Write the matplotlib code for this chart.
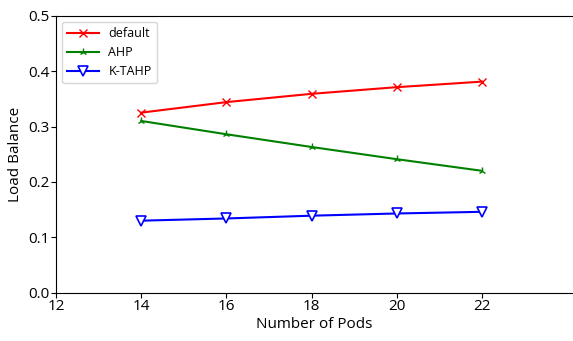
import matplotlib
matplotlib.use('Agg')
import matplotlib.pyplot as plt

plt.rcParams['font.family'] = ['Open Sans', 'DejaVu Sans']

# Данные
pods = [14, 16, 18, 20, 22]
default_vals = [0.325, 0.344, 0.359, 0.371, 0.381]
ahp_vals = [0.310, 0.286, 0.263, 0.241, 0.220]
ktahp_vals = [0.130, 0.134, 0.139, 0.143, 0.146]

fig = plt.figure(figsize=(5.73, 3.41), dpi=100)
ax = fig.add_axes([56 / 573, 1 - 292.7 / 341, 517 / 573, (292.7 - 15.7) / 341])

ax.plot(pods, default_vals, color='red', marker='x', markersize=6, linewidth=1.5, label='default')
ax.plot(pods, ahp_vals, color='green', marker='2', markersize=6, linewidth=1.5, label='AHP')
ax.plot(pods, ktahp_vals, color='blue', marker='v', markersize=6.5, markerfacecolor='white',
        markeredgewidth=1.2, linewidth=1.5, label='K-TAHP')

ax.set_xlim(12, 12 + 517 / 42.6)
ax.set_ylim(0, 0.5)
ax.set_xticks([12, 14, 16, 18, 20, 22])
ax.set_yticks([0.0, 0.1, 0.2, 0.3, 0.4, 0.5])
ax.tick_params(labelsize=11, pad=1)
ax.spines['right'].set_visible(False)

ax.set_xlabel('Number of Pods', fontsize=11, labelpad=2)
ax.set_ylabel('Load Balance', fontsize=11, labelpad=4)
ax.legend(loc='upper left', fontsize=9, handlelength=2.5)

fig.savefig('out.png', dpi=100)
